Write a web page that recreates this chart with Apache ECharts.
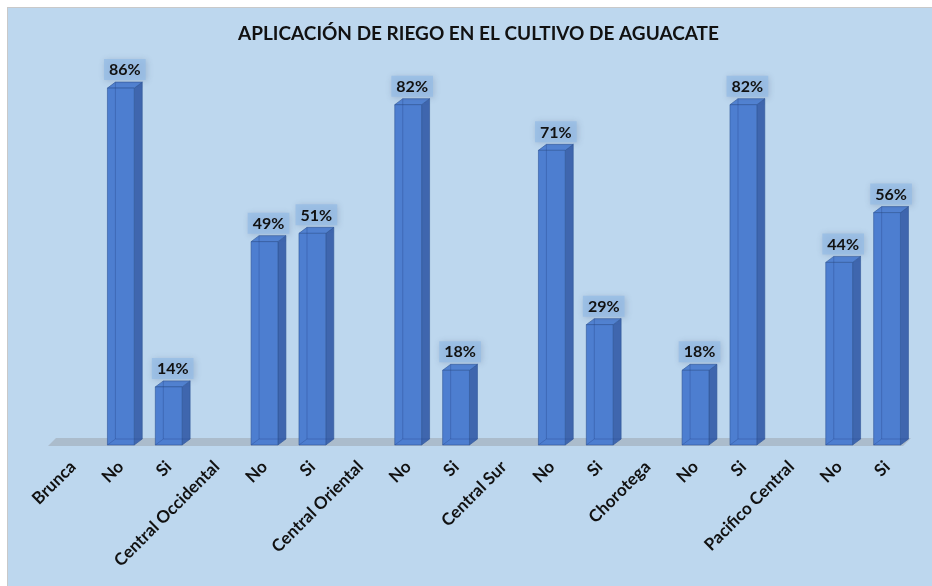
<!DOCTYPE html>
<html>
<head>
<meta charset="utf-8">
<script src="https://cdn.jsdelivr.net/npm/echarts@6/dist/echarts.min.js"></script>
<style>
html,body{margin:0;padding:0;background:#ffffff;}
#chart{position:absolute;left:7px;top:7px;width:924px;height:578px;border-left:1px solid #c9c9c9;border-top:1px solid #c9c9c9;background:#BDD7EE;}
</style>
</head>
<body>
<div id="chart"></div>
<script>
const titleText = 'APLICACIÓN DE RIEGO EN EL CULTIVO DE AGUACATE';
const categories = ['Brunca','No','Si','Central Occidental','No','Si','Central Oriental','No','Si','Central Sur','No','Si','Chorotega','No','Si','Pacifico Central','No','Si'];
const values = [null,86,14,null,49,51,null,82,18,null,71,29,null,18,82,null,44,56];

const barData = [];
values.forEach((v, i) => { if (v != null) barData.push([i, v]); });

const FONT = 'Lato, "Open Sans", sans-serif';
const chart = echarts.init(document.getElementById('chart'), null, {renderer: 'canvas'});

function renderFloor(params, api) {
  const a = api.coord([0, 0]);
  const slot = api.size([1, 0])[0];
  const left = a[0] - slot / 2 - 1;
  const right = left + slot * categories.length + 1;
  const y = a[1] + 1;
  const d = 8;
  return {
    type: 'polygon',
    shape: {points: [[left, y], [right - d, y], [right, y - d], [left + d, y - d]]},
    style: {fill: '#ABBCCC'}
  };
}

function renderBar(params, api) {
  const i = api.value(0), v = api.value(1);
  const top = api.coord([i, v]);
  const base = api.coord([i, 0]);
  const slot = api.size([1, 0])[0];
  const w = slot * 0.56;
  const dx = 8, dy = 6;
  const x0 = top[0] - w / 2, x1 = x0 + w;
  const yT = top[1], yB = base[1];
  const edge = '#2F5597';
  return {
    type: 'group',
    children: [
      {type: 'polygon', shape: {points: [[x1, yT], [x1 + dx, yT - dy], [x1 + dx, yB - dy], [x1, yB]]},
        style: {fill: '#3F66AE', stroke: edge, lineWidth: 0.6}},
      {type: 'polygon', shape: {points: [[x0, yT], [x0 + dx, yT - dy], [x1 + dx, yT - dy], [x1, yT]]},
        style: {fill: '#5283D2', stroke: edge, lineWidth: 0.6}},
      {type: 'rect', shape: {x: x0, y: yT, width: w, height: yB - yT},
        style: {fill: '#4D7ED0', stroke: edge, lineWidth: 0.6}},
      {type: 'polyline', shape: {points: [[x0 + dx, yT - dy], [x0 + dx, yB - dy], [x1 + dx, yB - dy]]},
        style: {stroke: 'rgba(40,70,140,0.45)', lineWidth: 0.8, fill: null}},
      {type: 'line', shape: {x1: x0, y1: yB, x2: x0 + dx, y2: yB - dy},
        style: {stroke: 'rgba(40,70,140,0.45)', lineWidth: 0.8}},
      {type: 'text', x: x0 + (w + dx) / 2, y: yT - dy - 2,
        style: {
          text: v + '%', font: 'bold 16px ' + FONT, fill: '#111',
          align: 'center', verticalAlign: 'bottom',
          backgroundColor: 'rgba(150,188,230,0.75)', padding: [3, 5, 2, 5],
          shadowBlur: 6, shadowColor: 'rgba(60,80,120,0.3)', shadowOffsetX: 1, shadowOffsetY: 1
        }}
    ]
  };
}

chart.setOption({
  animation: false,
  backgroundColor: '#BDD7EE',
  title: {
    text: titleText, left: 225, top: 11, padding: 5,
    textStyle: {fontFamily: FONT, fontWeight: 'bold', fontSize: 19, color: '#111'}
  },
  grid: {left: 41, right: 21, top: 22, bottom: 141},
  xAxis: {
    type: 'category', data: categories,
    axisLine: {show: false}, axisTick: {show: false},
    axisLabel: {interval: 0, rotate: 45, margin: 19, fontFamily: FONT, fontWeight: 'bold', fontSize: 17, color: '#111'}
  },
  yAxis: {type: 'value', min: 0, max: 100, show: false, splitLine: {show: false}},
  series: [
    {type: 'custom', renderItem: renderFloor, data: [[0, 0]], z: 1, silent: true},
    {type: 'custom', renderItem: renderBar, data: barData, z: 2}
  ]
});
</script>
</body>
</html>
